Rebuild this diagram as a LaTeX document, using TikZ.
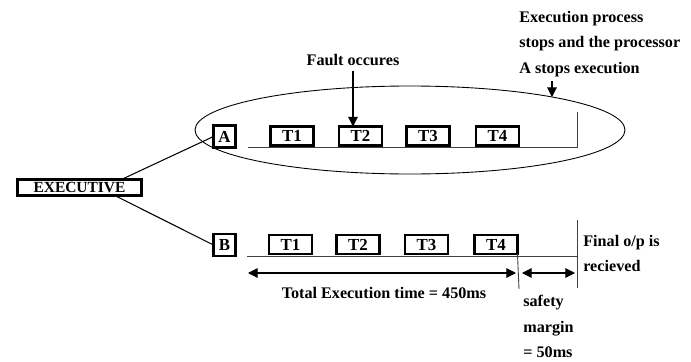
\documentclass[tikz,border=0pt]{standalone}
\usepackage{fontspec}
\setmainfont{Liberation Serif}
\usetikzlibrary{arrows.meta, positioning}
\tikzset{
    task/.style={rectangle, draw=black, line width=1.6pt, minimum width=0.86cm, minimum height=0.38cm, inner sep=0pt, outer sep=0pt, font=\bfseries\fontsize{9.6}{11}\selectfont},
    proc/.style={rectangle, draw=black, line width=1.6pt, minimum size=0.44cm, inner sep=0pt, outer sep=0pt, font=\bfseries\fontsize{9.6}{11}\selectfont},
    exec/.style={rectangle, draw=black, line width=1.5pt, minimum width=2.49cm, minimum height=0.33cm, inner sep=0pt, outer sep=0pt, font=\bfseries\fontsize{8.8}{11}\selectfont},
    note/.style={inner sep=0pt, align=left, font=\bfseries\fontsize{9.2}{14.4}\selectfont},
    arrow/.style={line width=0.6pt, -{Triangle[length=5.5pt,width=5.5pt]}},
    biarrow/.style={line width=0.6pt, {Triangle[length=5.5pt,width=5.5pt]}-{Triangle[length=5.5pt,width=5.5pt]}}
}
\begin{document}
\begin{tikzpicture}[x=0.02cm, y=-0.02cm,
        base/.style={draw=black!75, line width=0.5pt},
        wire/.style={draw=black, line width=0.6pt}
    ]
        \useasboundingbox (0,0) rectangle (691,362);

        % Executive and the two processors
        \node[exec] (exec) at (79.5,187.5) {EXECUTIVE};
        \node[proc] (procA) at (224.5,136.5) {A};
        \node[proc] (procB) at (224.5,245) {B};
        \draw[wire] (exec.11) -- (procA.west);
        \draw[wire] (exec.-13) -- (procB.west);

        % Processor A time line
        \coordinate (startA) at (248,147);
        \coordinate (endA) at (577,147);
        \coordinate (stopA) at (577,112);
        \draw[base] (startA) -- (endA) -- (stopA);
        \node[task] (taskA1) at (292,136) {T1};
        \node[task] (taskA2) at (360.5,136) {T2};
        \node[task] (taskA3) at (428,136) {T3};
        \node[task] (taskA4) at (497.5,136) {T4};
        \draw[line width=0.5pt] (410,130) ellipse [x radius=215, y radius=44];

        % Processor B time line
        \coordinate (startB) at (247,256);
        \coordinate (endB) at (577,256);
        \coordinate (topB) at (577,220);
        \coordinate (botB) at (577,288);
        \draw[base] (startB) -- (endB);
        \draw[base] (topB) -- (botB);
        \node[task] (taskB1) at (290.5,244.5) {T1};
        \node[task] (taskB2) at (358,244.5) {T2};
        \node[task] (taskB3) at (426.5,244.5) {T3};
        \node[task] (taskB4) at (496,244.5) {T4};
        \coordinate (markB) at (519,289);
        \draw[base] (taskB4.south east) -- (markB);

        % Timing arrows
        \coordinate (totalL) at (248,273);
        \coordinate (totalR) at (516,273);
        \coordinate (safeL) at (522,273);
        \coordinate (safeR) at (575,273);
        \draw[biarrow] (totalL) -- (totalR);
        \draw[biarrow] (safeL) -- (safeR);

        % Labels
        \node[note, anchor=base] (fault) at (353,65) {Fault occures};
        \draw[arrow] (fault.south) ++(0,5) -- (fault.south |- taskA2.north);
        \node[note, anchor=north west] (stoptext) at (519,11) {Execution process\\stops and the processor\\A stops execution};
        \coordinate (stoptip) at (552,97);
        \draw[arrow] (stoptext.south -| stoptip) ++(0,4) -- (stoptip);
        \node[note, anchor=base] (total) at (384,298) {Total Execution time = 450ms};
        \node[note, anchor=north west] (safety) at (523,295) {safety\\margin\\= 50ms};
        \node[note, anchor=north west] (final) at (583,235) {Final o/p is\\recieved};

    \end{tikzpicture}
\end{document}
